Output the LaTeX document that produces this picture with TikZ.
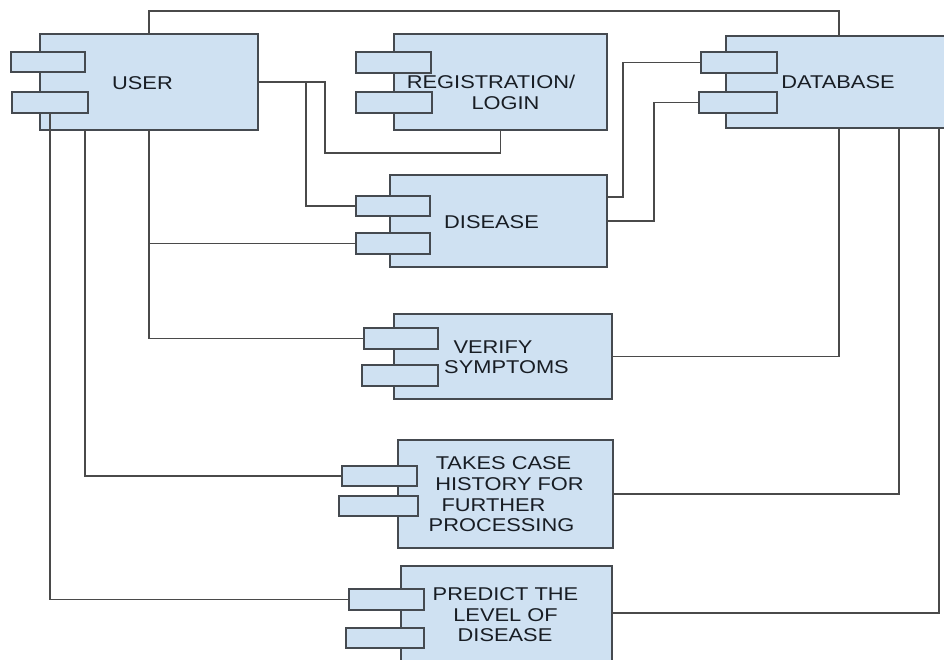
\documentclass[tikz,border=0pt]{standalone}
\usepackage{fontspec}
\setmainfont{Liberation Sans}[FakeStretch=1.18]
\begin{document}
\definecolor{boxfill}{HTML}{CFE1F2}
\definecolor{boxline}{HTML}{454A50}
\definecolor{wire}{HTML}{4A4A4A}
\definecolor{ink}{HTML}{181D24}
\begin{tikzpicture}[x=1pt,y=-1pt,
  comp/.style={draw=boxline,fill=boxfill,line width=1.2pt,inner sep=0pt,outer sep=0pt},
  port/.style={draw=boxline,fill=boxfill,line width=1.2pt,inner sep=0pt,outer sep=0pt},
  lbl/.style={anchor=base,inner sep=0pt,text=ink,font=\fontsize{18.5}{20.7}\selectfont},
  wireline/.style={draw=wire,line width=1.3pt}]
\useasboundingbox (0,0) rectangle (944,660);
\clip (0,0) rectangle (944,660);

% component bodies
\node[comp,minimum width=218pt,minimum height=96pt] (user) at (149,82) {};
\node[comp,minimum width=213pt,minimum height=96pt] (reg)  at (500.5,82) {};
\node[comp,minimum width=244pt,minimum height=92pt] (db)   at (848,82) {};
\node[comp,minimum width=217pt,minimum height=92pt] (dis)  at (498.5,221) {};
\node[comp,minimum width=218pt,minimum height=85pt] (ver)  at (503,356.5) {};
\node[comp,minimum width=215pt,minimum height=108pt] (tak) at (505.5,494) {};
\node[comp,minimum width=211pt,minimum height=114pt] (pre) at (506.5,623) {};

% interface ports
\node[port,minimum width=74pt,minimum height=20pt] (u1) at (48,62) {};
\node[port,minimum width=76pt,minimum height=21pt] (u2) at (50,102.5) {};
\node[port,minimum width=75pt,minimum height=21pt] (r1) at (393.5,62.5) {};
\node[port,minimum width=76pt,minimum height=21pt] (r2) at (394,102.5) {};
\node[port,minimum width=76pt,minimum height=21pt] (d1) at (739,62.5) {};
\node[port,minimum width=78pt,minimum height=21pt] (d2) at (738,102.5) {};
\node[port,minimum width=74pt,minimum height=20pt] (s1) at (393,206) {};
\node[port,minimum width=74pt,minimum height=21pt] (s2) at (393,243.5) {};
\node[port,minimum width=74pt,minimum height=21pt] (v1) at (401,338.5) {};
\node[port,minimum width=76pt,minimum height=21pt] (v2) at (400,375.5) {};
\node[port,minimum width=75pt,minimum height=20pt] (t1) at (379.5,476) {};
\node[port,minimum width=79pt,minimum height=20pt] (t2) at (378.5,506) {};
\node[port,minimum width=75pt,minimum height=21pt] (p1) at (386.5,599.5) {};
\node[port,minimum width=78pt,minimum height=20pt] (p2) at (385,638) {};

% labels
\node[lbl] (userT) at (142.5,89.3) {USER};
\node[lbl] (regT1) at (491,89) {REGISTRATION/};
\node[lbl] (regT2) at (505.5,110) {LOGIN};
\node[lbl] (dbT)   at (838,89) {DATABASE};
\node[lbl] (disT)  at (491.5,228.6) {DISEASE};
\node[lbl] (verT1) at (493,353.6) {VERIFY};
\node[lbl] (verT2) at (506.5,373.6) {SYMPTOMS};
\node[lbl] (takT1) at (503.5,469.6) {TAKES CASE};
\node[lbl] (takT2) at (509.5,490.6) {HISTORY FOR};
\node[lbl] (takT3) at (493.5,511.6) {FURTHER};
\node[lbl] (takT4) at (501.5,531.6) {PROCESSING};
\node[lbl] (preT1) at (505.5,600.6) {PREDICT THE};
\node[lbl] (preT2) at (505.5,621.6) {LEVEL OF};
\node[lbl] (preT3) at (505,641.6) {DISEASE};

% routing points
\coordinate (topRail) at (0,11);
\coordinate (regJoin) at (325,153);
\coordinate (disTap)  at (306,82);
\coordinate (dbB0)    at (839,128);
\coordinate (dbB1)    at (899,128);
\coordinate (dbB2)    at (939,128);

% connectors
\draw[wireline] (user.north) -- (user.north |- topRail) -| (dbB0 |- db.north);
\draw[wireline] (user.east) -| (regJoin) -| (reg.south);
\draw[wireline] (disTap) |- (s1.west);
\draw[wireline] (user.south) |- (v1.west);
\draw[wireline] (user.south |- s2.west) -- (s2.west);
\draw[wireline] (u1.east |- user.south) |- (t1.west);
\draw[wireline] (u2.south) |- (p1.west);
\draw[wireline] ([yshift=24pt]dis.east) -- ++(16pt,0) |- (d1.west);
\draw[wireline] (dis.east) -- ++(47pt,0) |- (d2.west);
\draw[wireline] (ver.east) -| (dbB0);
\draw[wireline] (tak.east) -| (dbB1);
\draw[wireline] ([yshift=10pt]pre.east) -| (dbB2);
\end{tikzpicture}
\end{document}
